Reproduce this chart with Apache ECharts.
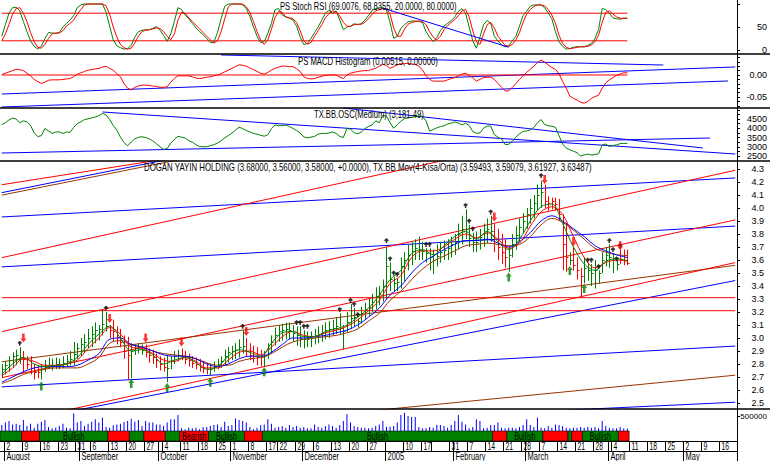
<!DOCTYPE html>
<html>
<head>
<meta charset="utf-8">
<title>DOGAN YAYIN HOLDING</title>
<script src="https://cdn.jsdelivr.net/npm/echarts@6.0.0/dist/echarts.min.js"></script>
<style>
html,body{margin:0;padding:0;background:#ffffff;}
#chart{width:770px;height:461px;}
</style>
</head>
<body>
<div id="chart"></div>
<script>
// ---------- calendar (trading days) ----------
const calendarStart = '2004-07-30';
const calendarEnd = '2005-05-20';
const holidays = ['2004-08-30','2004-10-29','2004-11-15','2004-11-16','2005-01-20','2005-01-21'];

// ---------- price bars (one per trading day from 2004-07-30) ----------
const high = [2.80,2.82,2.86,2.89,2.91,2.93,2.90,2.86,2.86,2.80,
2.79,2.80,2.83,2.85,2.84,2.85,2.84,2.86,2.87,2.90,
2.97,2.96,3.00,3.03,3.07,3.09,3.12,3.10,3.22,3.20,
3.10,3.14,3.09,3.07,3.02,3.01,2.96,2.95,2.96,2.95,
2.95,2.92,2.91,2.88,2.86,2.85,2.87,2.86,2.90,2.91,
2.92,2.90,2.88,2.86,2.85,2.84,2.82,2.81,2.80,2.82,
2.84,2.86,2.91,2.93,2.94,2.96,2.99,3.06,3.00,2.96,
2.94,2.93,2.91,2.90,2.96,3.02,3.08,3.10,3.11,3.12,
3.12,3.10,3.09,3.09,3.06,3.05,3.05,3.07,3.09,3.10,
3.12,3.13,3.14,3.16,3.19,3.10,3.20,3.26,3.23,3.15,
3.24,3.27,3.30,3.34,3.39,3.40,3.45,3.70,3.58,3.47,
3.46,3.62,3.66,3.72,3.74,3.76,3.78,3.74,3.69,3.69,
3.68,3.72,3.74,3.75,3.76,3.78,3.80,3.88,3.94,3.99,
3.87,3.81,3.82,3.84,3.88,3.92,3.94,3.88,3.84,3.80,
3.76,3.70,3.80,3.86,3.92,3.96,4.00,4.07,4.10,4.18,
4.21,4.18,4.09,4.08,4.08,4.07,3.95,3.88,3.66,3.70,
3.62,3.54,3.62,3.57,3.57,3.60,3.52,3.66,3.70,3.72,
3.65,3.60,3.68,3.68,3.68];
const low = [2.70,2.72,2.74,2.77,2.79,2.80,2.73,2.76,2.72,2.68,
2.69,2.68,2.74,2.76,2.75,2.76,2.76,2.77,2.78,2.79,
2.79,2.84,2.86,2.89,2.92,2.93,2.96,2.98,3.02,3.05,
3.00,2.97,2.95,2.93,2.84,2.68,2.69,2.87,2.88,2.87,
2.85,2.81,2.80,2.77,2.75,2.74,2.66,2.76,2.80,2.82,
2.83,2.80,2.78,2.77,2.76,2.74,2.73,2.72,2.71,2.74,
2.76,2.77,2.79,2.81,2.83,2.84,2.85,2.88,2.86,2.83,
2.81,2.79,2.78,2.78,2.84,2.88,2.94,2.97,2.98,2.99,
2.99,2.97,2.94,2.93,2.92,2.93,2.93,2.95,2.96,2.97,
2.99,3.00,3.02,3.03,3.03,2.91,3.04,3.07,3.09,3.08,
3.11,3.14,3.17,3.20,3.22,3.25,3.28,3.30,3.36,3.36,
3.36,3.38,3.44,3.52,3.56,3.60,3.60,3.60,3.58,3.52,
3.49,3.55,3.58,3.60,3.60,3.62,3.64,3.68,3.72,3.76,
3.70,3.66,3.66,3.68,3.70,3.73,3.74,3.66,3.60,3.57,
3.54,3.51,3.62,3.68,3.74,3.80,3.84,3.88,3.92,3.98,
4.00,4.00,3.98,3.99,3.98,3.90,3.52,3.51,3.56,3.52,
3.45,3.31,3.42,3.44,3.40,3.38,3.42,3.50,3.55,3.54,
3.50,3.52,3.57,3.56,3.56];
const close = [2.76,2.79,2.83,2.86,2.87,2.85,2.84,2.80,2.77,2.74,
2.74,2.76,2.78,2.79,2.79,2.80,2.79,2.81,2.82,2.84,
2.88,2.92,2.95,2.97,3.00,3.03,3.06,3.07,3.11,3.09,
3.06,3.05,3.01,2.97,2.90,2.87,2.90,2.92,2.92,2.91,
2.89,2.87,2.85,2.83,2.80,2.78,2.77,2.82,2.86,2.87,
2.86,2.84,2.83,2.81,2.80,2.78,2.77,2.76,2.76,2.78,
2.80,2.82,2.86,2.89,2.90,2.91,2.93,2.94,2.90,2.87,
2.86,2.85,2.85,2.86,2.92,2.97,3.02,3.05,3.06,3.07,
3.06,3.04,3.02,3.00,2.99,2.99,3.00,3.02,3.03,3.04,
3.06,3.07,3.08,3.09,3.08,3.05,3.12,3.15,3.16,3.13,
3.19,3.22,3.24,3.28,3.32,3.34,3.40,3.55,3.45,3.42,
3.43,3.55,3.60,3.64,3.67,3.69,3.68,3.67,3.65,3.62,
3.60,3.63,3.66,3.68,3.69,3.72,3.74,3.80,3.84,3.84,
3.77,3.74,3.74,3.78,3.81,3.84,3.82,3.76,3.70,3.66,
3.62,3.64,3.72,3.79,3.85,3.90,3.95,4.00,4.04,4.10,
4.12,4.05,4.04,4.05,4.03,3.95,3.72,3.62,3.60,3.56,
3.52,3.48,3.54,3.52,3.50,3.52,3.50,3.60,3.64,3.62,
3.60,3.57,3.61,3.60,3.58];
const volume = [200000,280000,330000,220000,245000,200000,365000,165000,245000,110000,
245000,310000,365000,135000,90000,110000,165000,245000,110000,90000,
590000,280000,330000,165000,245000,310000,390000,280000,445000,135000,
110000,190000,220000,245000,300000,330000,410000,310000,365000,165000,
330000,280000,280000,220000,220000,165000,280000,390000,390000,535000,
90000,55000,110000,90000,110000,55000,135000,135000,165000,200000,
220000,135000,310000,165000,200000,420000,365000,330000,280000,135000,
55000,110000,190000,220000,390000,245000,110000,135000,165000,110000,
200000,135000,165000,110000,135000,90000,90000,220000,135000,110000,
165000,220000,165000,110000,200000,330000,555000,280000,165000,135000,
110000,110000,90000,110000,165000,220000,330000,145000,145000,165000,
280000,535000,610000,500000,465000,465000,135000,90000,90000,135000,
110000,200000,200000,165000,110000,200000,330000,535000,310000,220000,
90000,135000,390000,330000,90000,110000,200000,200000,280000,110000,
90000,110000,110000,90000,135000,200000,390000,200000,135000,445000,
110000,90000,165000,110000,220000,200000,165000,110000,90000,110000,
110000,135000,110000,135000,110000,135000,90000,330000,165000,110000,
90000,90000,135000,90000,80000];

// ---------- moving averages (TX.BB Mov), read every 3rd trading day ----------
const maIdx = [0,3,6,9,12,15,18,21,24,27,30,33,36,39,42,45,48,51,54,57,60,63,66,69,72,75,78,81,84,87,90,93,96,99,102,105,108,111,114,117,120,123,126,129,132,135,138,141,144,147,150,153,156,159,162,165,168,171,174];
const maFast = [2.72,2.80,2.85,2.80,2.78,2.79,2.80,2.85,2.95,3.03,3.09,3.00,2.90,2.91,2.87,2.80,2.83,2.85,2.81,2.76,2.78,2.86,2.91,2.89,2.86,2.96,3.04,3.05,3.01,3.01,3.05,3.07,3.10,3.16,3.23,3.33,3.45,3.52,3.65,3.68,3.64,3.71,3.78,3.82,3.76,3.82,3.74,3.68,3.76,3.90,4.01,4.03,3.88,3.70,3.57,3.52,3.59,3.61,3.595];
const maMid = [2.71,2.77,2.84,2.82,2.79,2.79,2.80,2.83,2.92,3.00,3.08,3.03,2.93,2.92,2.88,2.83,2.82,2.85,2.82,2.77,2.77,2.83,2.89,2.90,2.87,2.93,3.01,3.05,3.02,3.01,3.04,3.06,3.09,3.14,3.21,3.29,3.42,3.48,3.62,3.67,3.67,3.70,3.76,3.80,3.77,3.81,3.76,3.69,3.73,3.86,3.97,4.01,3.95,3.78,3.62,3.54,3.58,3.60,3.591];
const maSlow = [2.66,2.70,2.74,2.77,2.78,2.78,2.78,2.79,2.83,2.88,2.99,3.00,2.95,2.93,2.90,2.87,2.86,2.86,2.84,2.80,2.78,2.80,2.84,2.86,2.86,2.89,2.95,3.00,3.00,3.01,3.02,3.04,3.06,3.10,3.16,3.23,3.33,3.40,3.50,3.58,3.63,3.68,3.72,3.75,3.75,3.76,3.73,3.70,3.74,3.81,3.90,3.94,3.90,3.84,3.78,3.71,3.67,3.64,3.619];
const maLong = [2.65,2.68,2.72,2.74,2.76,2.77,2.77,2.77,2.80,2.85,2.96,2.98,2.95,2.93,2.90,2.88,2.87,2.86,2.84,2.81,2.79,2.79,2.82,2.84,2.85,2.88,2.93,2.97,2.99,3.00,3.01,3.02,3.04,3.07,3.13,3.19,3.29,3.36,3.45,3.53,3.59,3.63,3.67,3.71,3.72,3.73,3.72,3.71,3.72,3.78,3.87,3.92,3.89,3.83,3.76,3.69,3.66,3.64,3.635];

// ---------- indicators (one per trading day) ----------
const stochK = [30,55,80,92,93,85,62,40,20,8,
2,8,25,38,37,36,38,50,58,65,
75,92,98,100,100,100,100,100,100,82,
52,22,9,5,2,3,10,28,40,43,
44,44,47,51,43,32,19,35,62,92,
88,76,68,58,48,40,33,25,16,17,
38,68,95,100,100,100,100,98,90,73,
50,30,16,18,36,58,88,90,76,72,
69,65,52,28,12,14,25,38,50,65,
80,86,80,85,65,44,50,52,57,55,
57,65,75,86,90,92,92,87,60,25,
30,47,55,61,63,63,62,60,40,28,
18,27,42,52,58,64,72,84,90,80,
50,20,4,28,55,64,58,30,20,11,
7,9,20,30,52,75,84,95,98,98,
98,92,80,68,40,18,8,2,3,6,
7,7,7,10,14,25,45,90,88,80,
70,68,67,69,69];
const stochD = [20,35,55,78,90,92,80,62,38,18,
6,4,12,25,35,37,37,42,52,58,
65,78,88,98,100,100,100,100,100,96,
78,50,28,12,5,2,4,15,30,40,
43,44,46,48,47,40,30,22,35,65,
82,80,70,62,54,46,38,30,22,15,
20,40,68,94,100,100,100,100,94,82,
62,40,22,12,22,45,70,84,82,72,
70,68,60,42,20,13,16,30,42,55,
70,79,85,82,74,60,52,51,55,56,
56,60,68,78,85,88,90,90,78,48,
30,30,45,56,60,62,63,62,55,40,
28,22,30,44,53,60,66,75,85,88,
72,42,18,12,35,55,60,48,30,20,
10,8,12,22,38,60,78,88,95,98,
98,96,88,76,58,32,14,6,3,4,
6,7,7,8,11,18,32,60,82,85,
78,72,69,69,69];
const stochLevels = [20, 80];
const stochTrendLine = [106, 91, 141, 6];

const macdHist = [0.001,0.004,0.007,0.010,0.013,0.012,0.010,0.004,-0.002,-0.010,
-0.015,-0.019,-0.016,-0.012,-0.011,-0.011,-0.011,-0.010,-0.009,-0.008,
-0.004,0.002,0.005,0.008,0.011,0.012,0.014,0.015,0.018,0.020,
0.015,0.011,0.003,-0.004,-0.020,-0.030,-0.034,-0.028,-0.025,-0.023,
-0.023,-0.024,-0.025,-0.026,-0.028,-0.028,-0.027,-0.016,-0.008,-0.002,
-0.002,-0.002,-0.002,-0.004,-0.007,-0.008,-0.007,-0.005,-0.004,-0.002,
0.000,0.003,0.007,0.011,0.015,0.019,0.023,0.022,0.020,0.016,
0.012,0.008,0.004,0.002,0.006,0.011,0.015,0.018,0.020,0.020,
0.019,0.019,0.014,0.008,-0.004,-0.008,-0.009,-0.008,-0.005,-0.003,
-0.001,0.000,0.000,0.000,-0.005,-0.008,0.000,0.004,0.006,0.008,
0.009,0.010,0.010,0.013,0.015,0.020,0.024,0.022,0.015,0.019,
0.023,0.025,0.026,0.026,0.025,0.024,0.020,0.012,-0.002,-0.010,
-0.014,-0.014,-0.014,-0.014,-0.011,-0.008,-0.006,-0.002,0.002,0.004,
-0.001,-0.006,-0.014,-0.010,-0.006,-0.005,-0.005,-0.010,-0.019,-0.028,
-0.036,-0.036,-0.028,-0.020,-0.010,-0.002,0.006,0.013,0.020,0.028,
0.034,0.029,0.023,0.017,0.013,0.003,-0.015,-0.030,-0.048,-0.053,
-0.057,-0.062,-0.064,-0.060,-0.053,-0.049,-0.046,-0.030,-0.018,-0.011,
-0.006,-0.001,0.002,0.005,0.005];
const macdTrendLines = [[0,-0.0432,204,0.0182],[0,-0.0727,202,-0.0136],[61,0.0455,184,0.0227]];

const bbOsc = [4200,4300,4450,4550,4500,4300,4400,4350,4150,3750,
3550,3600,3990,3850,3720,3800,3800,3720,3800,3780,
4050,4250,4350,4470,4510,4560,4610,4680,4800,4720,
4470,4150,3900,3520,3230,3050,3260,3430,3510,3540,
3500,3430,3320,3160,3000,2860,2900,3200,3400,3560,
3520,3470,3330,3250,3110,3010,3000,3000,3060,3110,
3200,3320,3480,3600,3740,3900,4060,3980,3880,3800,
3720,3680,3620,3570,3650,3980,4170,4140,4140,4170,
4100,3990,3880,3740,3530,3480,3520,3560,3680,3720,
3720,3740,3800,3720,3560,3500,3990,3950,3760,3700,
3800,3980,4100,4180,4400,4300,4700,4650,4300,4000,
4200,4380,4520,4560,4590,4620,4660,4640,4400,3850,
3930,4020,4090,4130,4230,4280,4340,4280,4180,4270,
4150,3830,3730,3750,4000,4120,4120,3650,3520,3420,
3120,3130,3300,3520,3700,3830,3860,3900,4050,4300,
4470,4200,4140,4110,4050,3600,3150,2930,2840,2760,
2680,2500,2560,2600,2550,2580,2620,3100,3150,3010,
3070,3100,3170,3180,3181];
const bbTrendLines = [[28,4878,204,2608],[95,5095,195,2933],[0,2662,197,3473]];

// ---------- price trend lines [fromIdx, fromPrice, toIdx, toPrice] ----------
const priceTrendLines = [
 [0,4.179,204,5.065],[0,4.118,204,5.246],[0,4.099,204,5.227],[0,3.931,204,4.231],
 [0,3.618,204,4.859],[0,3.547,204,3.861],[0,3.049,204,4.290],[0,2.695,204,3.908],
 [0,2.817,204,3.559],[0,2.334,204,3.580],[0,2.331,204,3.442],[0,2.624,204,2.938],
 [0,2.162,204,2.714],[0,2.241,204,2.506],[0,3.31,204,3.31],[0,3.21,204,3.21]
];

// ---------- signals ----------
const dotIdx = [5,29,67,82,83,84,85,94,97,98,99,107,108,109,110,118,119,129,130,131,136,150,163,164,166,169,170,171,172];
const dotPrice = [2.96,3.23,3.09,3.12,3.12,3.09,3.09,3.22,3.29,3.26,3.18,3.75,3.61,3.50,3.49,3.72,3.72,4.02,3.90,3.84,3.97,4.25,3.60,3.60,3.55,3.75,3.68,3.61,3.71];
const sellIdx = [6,30,40,50,68,137,151,159,172];
const sellPrice = [3.00,3.15,3.00,2.97,3.05,3.93,4.22,3.74,3.71];
const buyIdx = [11,36,46,58,73,141,158,162];
const buyPrice = [2.63,2.65,2.62,2.66,2.74,3.47,3.52,3.38];

// ---------- bullish / bearish trend segments ----------
const trendSegStart = [0,6,11,30,36,40,46,50,58,68,73,137,141,151,158,159,162,172];
const trendSegEnd   = [5,10,29,35,39,45,49,57,67,72,136,140,150,157,158,161,171,174];
const trendSegBull  = [1,0,1,0,1,0,1,0,1,0,1,0,1,0,1,0,1,0];

// ---------- axis labels ----------
const weekTickDates = ['2004-08-02','2004-08-09','2004-08-16','2004-08-23','2004-08-31','2004-09-01','2004-09-06','2004-09-13','2004-09-20','2004-09-27','2004-10-01','2004-10-04','2004-10-11','2004-10-18','2004-10-25','2004-11-01','2004-11-08','2004-11-17','2004-11-22','2004-11-29','2004-12-01','2004-12-06','2004-12-13','2004-12-20','2004-12-27','2005-01-03','2005-01-10','2005-01-17','2005-01-24','2005-01-31','2005-02-01','2005-02-07','2005-02-14','2005-02-21','2005-02-28','2005-03-01','2005-03-07','2005-03-14','2005-03-21','2005-03-28','2005-04-01','2005-04-04','2005-04-11','2005-04-18','2005-04-25','2005-05-02','2005-05-09','2005-05-16'];
const weekTickLabels = ['2','9','16','23','3','1','6','13','20','27','','4','11','18','25','1','8','17','22','29','','6','13','20','27','','10','17','','3','1','7','14','21','28','','7','14','21','28','','4','11','18','25','2','9','16'];
const monthTickDates = ['2004-08-02','2004-09-01','2004-10-01','2004-11-01','2004-12-01','2005-01-03','2005-02-01','2005-03-01','2005-04-01','2005-05-02'];
const monthTickLabels = ['August','September','October','November','December','2005','February','March','April','May'];
const stochTicks = [0,50,100], stochLabels = [0,50];
const macdTicks = [-0.07,-0.06,-0.05,-0.04,-0.03,-0.02,-0.01,0,0.01,0.02,0.03,0.04], macdLabels = [-0.05,0];
const bbTicks = [2500,2750,3000,3250,3500,3750,4000,4250,4500,4750,5000], bbLabels = [2500,3000,3500,4000,4500];
const priceTicks = [2.5,2.6,2.7,2.8,2.9,3.0,3.1,3.2,3.3,3.4,3.5,3.6,3.7,3.8,3.9,4.0,4.1,4.2,4.3];
const volTicks = [500000], volLabels = [500000];

const titleStoch = 'PS Stoch RSI (69.0076, 68.8355, 20.0000, 80.0000)';
const titleMacd = 'PS MACD Histogram (0.00515, 0.00000)';
const titleBB = 'TX.BB.OSC(Medium) (3,181.49)';
const titleMain = 'DOGAN YAYIN HOLDING (3.68000, 3.56000, 3.58000, +0.0000), TX.BB Mov(4-Kısa/Orta) (3.59493, 3.59079, 3.61927, 3.63487)';

// ================= rendering =================
const C = {green:'#008000', red:'#ff0000', blue:'#0000ff', brown:'#993300', black:'#000000'};
const FONTFAM = '"Liberation Sans", Arial, sans-serif';
const SMALLFONT = '10px ' + FONTFAM;
const priceLineColors = [C.red,C.blue,C.brown,C.blue,C.red,C.blue,C.red,C.red,C.brown,C.red,C.blue,C.blue,C.brown,C.blue,C.red,C.red];
const macdLineColors = [C.blue,C.blue,C.blue];
const bbLineColors = [C.blue,C.blue,C.blue];

function tradingDays(){
  const out = [];
  const d = new Date(calendarStart + 'T00:00:00Z');
  const end = new Date(calendarEnd + 'T00:00:00Z');
  while (d <= end) {
    const wd = d.getUTCDay();
    const s = d.toISOString().slice(0,10);
    if (wd !== 0 && wd !== 6 && holidays.indexOf(s) < 0) out.push(s);
    d.setUTCDate(d.getUTCDate() + 1);
  }
  return out;
}
const dates = tradingDays();
const lastBar = close.length - 1;

const bullByDay = [];
trendSegStart.forEach((s,k)=>{ for(let i=s;i<=trendSegEnd[k];i++) bullByDay[i] = trendSegBull[k]; });

const PW = 737;
const gridDefs = [[0,54],[54,54],[108,53],[161,248],[409,22],[431,10],[441,10],[451,10]];
const grid = gridDefs.map(g=>({left:0, width:PW, top:g[0], height:g[1], containLabel:false, outerBoundsMode:'none', show:false}));
const xAxis = gridDefs.map((g,k)=>({type:'category', gridIndex:k, data:dates, boundaryGap:true, show:false}));

function yAx(k, min, max, ticks, labels, fmt, margin, fs){
  return {type:'value', gridIndex:k, position:'right', min:min, max:max,
    splitLine:{show:false}, axisLine:{show:false},
    axisTick:{show:!!ticks, length:3, inside:false, lineStyle:{color:'#000', width:1}, customValues:ticks||undefined},
    axisLabel:{show:!!labels, customValues:labels||undefined, formatter:fmt, align:'right', margin:margin, color:'#000', fontSize:fs, fontFamily:FONTFAM}};
}
const yAxis = [
  yAx(0, -8.7, 108.7, stochTicks, stochLabels, v=>String(v), 30, 9),
  yAx(1, -0.075, 0.0477, macdTicks, macdLabels, v=>v.toFixed(2), 30, 9),
  yAx(2, 2230, 5095, bbTicks, bbLabels, v=>String(v), 30, 9),
  yAx(3, 2.4538, 4.3615, priceTicks, priceTicks, v=>v.toFixed(1), 27, 9),
  yAx(4, 0, 733333, volTicks, volLabels, v=>String(v), 30, 8),
  yAx(5, 0, 1, null, null, null, 0, 9),
  yAx(6, 0, 1, null, null, null, 0, 9),
  yAx(7, 0, 1, null, null, null, 0, 9)
];

const series = [];
function addLine(k, data, color, extra){
  series.push(Object.assign({type:'line', xAxisIndex:k, yAxisIndex:k, data:data, symbol:'none', silent:true,
    lineStyle:{width:1, color:color}, itemStyle:{color:color}, clip:true, animation:false, z:2}, extra||{}));
}
function seg(l){ return [[l[0], l[1]], [l[2], l[3]]]; }

// Stoch RSI panel
stochLevels.forEach(v=>addLine(0, [[0,v],[lastBar,v]], C.red));
addLine(0, stochK, C.green);
addLine(0, stochD, C.red);
addLine(0, seg(stochTrendLine), C.blue);
// MACD panel
macdTrendLines.forEach((l,k)=>addLine(1, seg(l), macdLineColors[k]));
addLine(1, [[0,0],[lastBar,0]], C.red);
addLine(1, macdHist, C.red);
// BB osc panel
bbTrendLines.forEach((l,k)=>addLine(2, seg(l), bbLineColors[k]));
addLine(2, bbOsc, C.green);
// Main panel: trend lines
priceTrendLines.forEach((l,k)=>addLine(3, seg(l), priceLineColors[k]));

// OHLC bars
function renderOHLC(params, api){
  const i = api.value(0);
  const pHi = api.coord([i, api.value(1)]);
  const pLo = api.coord([i, api.value(2)]);
  const pCl = api.coord([i, api.value(3)]);
  const color = api.value(4) ? C.green : C.red;
  const x = Math.round(pHi[0]) + 0.5;
  const yc = Math.round(pCl[1]) + 0.5;
  return {type:'group', children:[
    {type:'line', shape:{x1:x, y1:pHi[1], x2:x, y2:pLo[1]}, style:{stroke:color, lineWidth:1}},
    {type:'line', shape:{x1:x, y1:yc, x2:x+2, y2:yc}, style:{stroke:color, lineWidth:1}}
  ]};
}
series.push({type:'custom', xAxisIndex:3, yAxisIndex:3, renderItem:renderOHLC, silent:true, animation:false, z:3,
  encode:{x:0, y:[1,2,3]}, data: close.map((c,i)=>[i, high[i], low[i], c, bullByDay[i]])});

// Moving averages
[[maLong,C.brown],[maSlow,C.blue],[maMid,C.red],[maFast,C.green]].forEach(m=>{
  addLine(3, maIdx.map((ix,k)=>[ix, m[0][k]]), m[1], {smooth:0.35, z:4});
});

// Signals
series.push({type:'scatter', xAxisIndex:3, yAxisIndex:3, silent:true, animation:false, z:5,
  symbol:'path://M2,0L4,2.2L2.6,3.4L2.6,5L1.4,5L1.4,3.4L0,2.2Z', symbolSize:[5,5], itemStyle:{color:'#000'},
  data: dotIdx.map((ix,k)=>[ix, dotPrice[k]])});
series.push({type:'scatter', xAxisIndex:3, yAxisIndex:3, silent:true, animation:false, z:5,
  symbol:'path://M2,0H5V5H7L3.5,9L0,5H2Z', symbolSize:[6,9], itemStyle:{color:C.red},
  data: sellIdx.map((ix,k)=>[ix, sellPrice[k]])});
series.push({type:'scatter', xAxisIndex:3, yAxisIndex:3, silent:true, animation:false, z:5,
  symbol:'path://M3.5,0L7,4H5V9H2V4H0Z', symbolSize:[6,9], itemStyle:{color:C.green},
  data: buyIdx.map((ix,k)=>[ix, buyPrice[k]])});

// Volume
series.push({type:'bar', xAxisIndex:4, yAxisIndex:4, data:volume, barWidth:1, silent:true, animation:false,
  itemStyle:{color:C.blue}});

// Bullish / Bearish band
function renderBand(params, api){
  const s = api.value(0), e = api.value(1), bull = api.value(2);
  const bw = api.size([1,0])[0];
  const a = api.coord([s, 1]), b = api.coord([e, 0]);
  const x0 = a[0] - bw/2, x1 = b[0] + bw/2;
  const kids = [{type:'rect', shape:{x:x0, y:a[1], width:x1-x0, height:b[1]-a[1]},
    style:{fill: bull ? C.green : C.red, stroke:'#000', lineWidth:0.6}}];
  if (x1 - x0 >= 28) {
    kids.push({type:'text', x:(x0+x1)/2, y:(a[1]+b[1])/2 + 0.5, scaleX:0.72,
      style:{text: bull ? 'Bullish' : 'Bearish', font:SMALLFONT, fill:'#000', align:'center', verticalAlign:'middle'}});
  }
  return {type:'group', children:kids};
}
series.push({type:'custom', xAxisIndex:5, yAxisIndex:5, renderItem:renderBand, silent:true, animation:false,
  encode:{x:[0,1], y:2}, data: trendSegStart.map((s,k)=>[s, trendSegEnd[k], trendSegBull[k]])});

// Date rows
function makeTickRenderer(labels, scale){
  return function(params, api){
    const i = api.value(0);
    const bw = api.size([1,0])[0];
    const a = api.coord([i, 1]), b = api.coord([i, 0]);
    const x = Math.round(a[0] - bw/2) + 0.5;
    return {type:'group', children:[
      {type:'line', shape:{x1:x, y1:a[1], x2:x, y2:b[1]}, style:{stroke:'#000', lineWidth:1}},
      {type:'text', x:x+2, y:(a[1]+b[1])/2 + 0.5, scaleX:scale,
        style:{text: labels[params.dataIndex], font:SMALLFONT, fill:'#000', verticalAlign:'middle'}}
    ]};
  };
}
series.push({type:'custom', xAxisIndex:6, yAxisIndex:6, renderItem:makeTickRenderer(weekTickLabels, 0.68), silent:true, animation:false,
  encode:{x:0, y:1}, data: weekTickDates.map(d=>[dates.indexOf(d), 0.5])});
series.push({type:'custom', xAxisIndex:7, yAxisIndex:7, renderItem:makeTickRenderer(monthTickLabels, 0.75), silent:true, animation:false,
  encode:{x:0, y:1}, data: monthTickDates.map(d=>[dates.indexOf(d), 0.5])});

// Frame lines and titles
const mctx = document.createElement('canvas').getContext('2d');
function fitScale(text, width){ mctx.font = SMALLFONT; return width / mctx.measureText(text).width; }
const graphic = [];
function gl(x1,y1,x2,y2,w){ graphic.push({type:'line', silent:true, z:100, shape:{x1,y1,x2,y2}, style:{stroke:'#000', lineWidth:w}}); }
gl(0,54,770,54,1.5); gl(0,108,770,108,1.5); gl(0,161,770,161,1.5); gl(0,409,770,409,1.5);
gl(0,441.5,PW,441.5,1); gl(0,451.5,PW,451.5,1);
gl(PW+0.5,0,PW+0.5,461,1);
function title(text, x, y, width){
  graphic.push({type:'text', silent:true, z:90, x:x, y:y, scaleX:fitScale(text, width),
    style:{text:text, font:SMALLFONT, fill:'#000', verticalAlign:'middle'}});
}
title(titleStoch, 280, 7, 177);
title(titleMacd, 298, 62, 140);
title(titleBB, 314, 115, 110);
title(titleMain, 144, 168, 449);

const chart = echarts.init(document.getElementById('chart'), null, {renderer:'svg', width:770, height:461});
chart.setOption({animation:false, backgroundColor:'#ffffff', grid, xAxis, yAxis, series, graphic});
</script>
</body>
</html>
